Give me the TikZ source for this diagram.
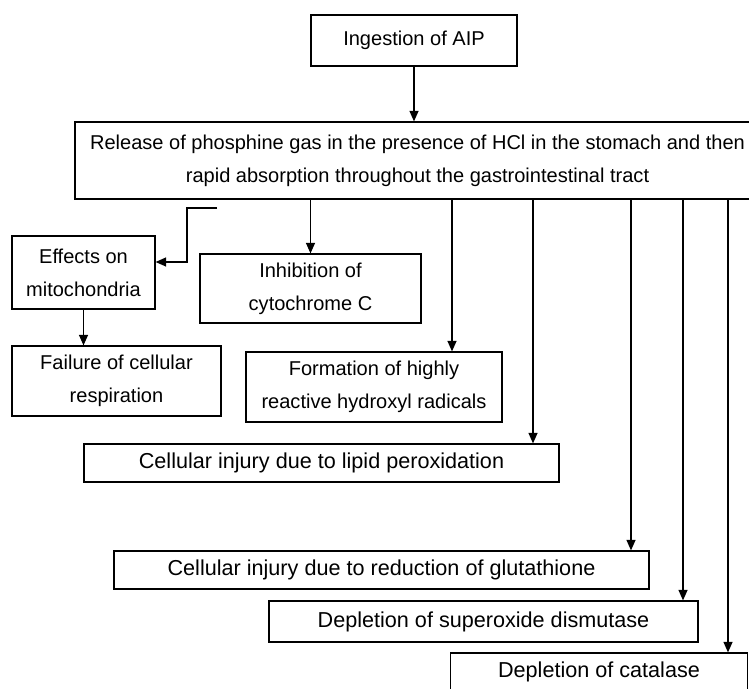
\documentclass[tikz,border=0pt]{standalone}
\usepackage{fontspec}
\setmainfont{Liberation Sans}
\usetikzlibrary{arrows.meta}
\tikzset{
	flowbox/.style={draw, line width=0.7pt, align=center, inner sep=0pt, font=\fontsize{11.4}{18.8}\selectfont},
	widebox/.style={flowbox, font=\fontsize{12.3}{14}\selectfont},
	arr/.style={line width=0.7pt, -{Triangle[length=0.21cm, width=0.18cm]}}
}
\begin{document}
\begin{tikzpicture}
	\useasboundingbox (0,0) rectangle (14.98,-13.78);
	\clip (0,0) rectangle (14.98,-13.78);
	
	\node[flowbox, minimum width=4.12cm, minimum height=1.02cm] (ingest) at (8.28,-0.81) {Ingestion of AIP};
	\node[flowbox, minimum width=13.7cm, minimum height=1.54cm] (release) at (8.35,-3.21) {Release of phosphine gas in the presence of HCl in the stomach and then\\rapid absorption throughout the gastrointestinal tract};
	
	\node[flowbox, minimum width=2.86cm, minimum height=1.46cm] (effects) at (1.67,-5.45) {Effects on\\mitochondria};
	\node[flowbox, minimum width=4.18cm, minimum height=1.40cm] (failure) at (2.33,-7.62) {Failure of cellular\\respiration};
	\node[flowbox, minimum width=4.42cm, minimum height=1.38cm] (inhibit) at (6.21,-5.77) {Inhibition of\\cytochrome C};
	\node[flowbox, minimum width=5.12cm, minimum height=1.40cm] (formation) at (7.48,-7.74) {Formation of highly\\reactive hydroxyl radicals};
	
	\node[widebox, minimum width=9.50cm, minimum height=0.76cm] (lipid) at (6.43,-9.26) {Cellular injury due to lipid peroxidation};
	\node[widebox, minimum width=10.70cm, minimum height=0.76cm] (glut) at (7.63,-11.40) {Cellular injury due to reduction of glutathione};
	\node[widebox, minimum width=8.58cm, minimum height=0.82cm] (sod) at (9.67,-12.43) {Depletion of superoxide dismutase};
	\node[widebox, minimum width=5.94cm, minimum height=0.76cm] (catalase) at (11.98,-13.44) {Depletion of catalase};
	
	% x positions of the long drops
	\coordinate (xform) at (9.04,0);
	\coordinate (xlipid) at (10.66,0);
	\coordinate (xglut) at (12.62,0);
	\coordinate (xsod) at (13.66,0);
	\coordinate (xcat) at (14.56,0);
	\coordinate (elb) at (4.34,-4.16);
	
	\draw[arr] (ingest.south) -- (ingest.south |- release.north);
	\draw[arr] (elb) -- ++(-0.6,0) |- ([yshift=0.21cm]effects.east);
	\draw[arr] (effects.south) -- (effects.south |- failure.north);
	\draw[arr] (release.south -| inhibit.north) -- (inhibit.north);
	\draw[arr] (release.south -| xform) -- (formation.north -| xform);
	\draw[arr] (release.south -| xlipid) -- (lipid.north -| xlipid);
	\draw[arr] (release.south -| xglut) -- (glut.north -| xglut);
	\draw[arr] (release.south -| xsod) -- (sod.north -| xsod);
	\draw[arr] (release.south -| xcat) -- (catalase.north -| xcat);
\end{tikzpicture}
\end{document}
